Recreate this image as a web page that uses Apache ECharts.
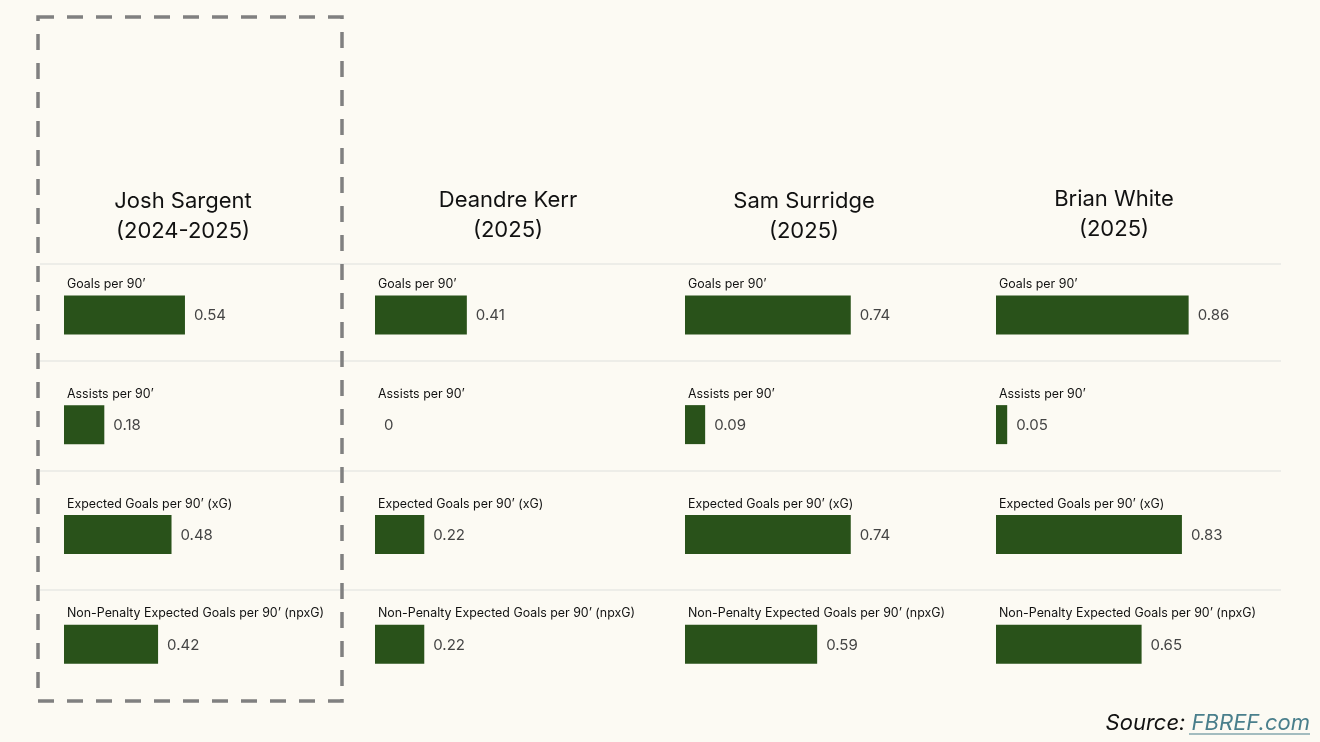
<!DOCTYPE html>
<html>
<head>
<meta charset="utf-8">
<script src="https://cdn.jsdelivr.net/npm/echarts@6/dist/echarts.min.js"></script>
<style>
  html, body { margin: 0; padding: 0; background: #fcfaf3; }
  #main { width: 1320px; height: 742px; }
</style>
</head>
<body>
<div id="main"></div>
<script>
// players and the four per-90 stats
var players = ['Josh Sargent', 'Deandre Kerr', 'Sam Surridge', 'Brian White']
var seasons = ['(2024-2025)', '(2025)', '(2025)', '(2025)']
var metrics = [
  'Goals per 90’',
  'Assists per 90’',
  'Expected Goals per 90’ (xG)',
  'Non-Penalty Expected Goals per 90’ (npxG)'
]
var sargent = [0.54, 0.18, 0.48, 0.42]
var kerr = [0.41, 0, 0.22, 0.22]
var surridge = [0.74, 0.09, 0.74, 0.59]
var white = [0.86, 0.05, 0.83, 0.65]
var values = [sargent, kerr, surridge, white]

var font = 'Inter, "Noto Sans", sans-serif'
var colLeft = [64, 375, 685, 996]
var nameX = [183, 508, 804, 1114]
var nameY = [216, 215, 216, 214]

var grids = [], xAxes = [], yAxes = [], series = [], graphics = []

players.forEach(function (name, i) {
  grids.push({ left: colLeft[i], top: 260, width: 224, height: 439 })
  xAxes.push({ gridIndex: i, type: 'value', min: 0, max: 1, show: false })
  yAxes.push({ gridIndex: i, type: 'category', inverse: true, data: metrics, show: false })
  // bars with the value label
  series.push({
    type: 'bar',
    xAxisIndex: i,
    yAxisIndex: i,
    barWidth: 39,
    silent: true,
    itemStyle: { color: '#29521a' },
    label: {
      show: true,
      position: 'right',
      distance: 9,
      offset: [0, 1],
      fontFamily: font,
      fontSize: 15,
      color: '#444'
    },
    data: values[i]
  })
  // same bars, invisible, carrying the metric name above
  series.push({
    type: 'bar',
    xAxisIndex: i,
    yAxisIndex: i,
    barWidth: 39,
    barGap: '-100%',
    silent: true,
    itemStyle: { color: 'rgba(0,0,0,0)' },
    label: {
      show: true,
      position: [3, -11],
      align: 'left',
      verticalAlign: 'middle',
      fontFamily: font,
      fontSize: 12.4,
      color: '#111',
      formatter: function (p) { return p.name }
    },
    data: values[i]
  })
  graphics.push({
    type: 'text',
    x: nameX[i],
    y: nameY[i],
    style: {
      text: name + '\n' + seasons[i],
      fontFamily: font,
      fontSize: 22,
      lineHeight: 30,
      fill: '#111',
      align: 'center',
      verticalAlign: 'middle'
    }
  })
})

// row separators
;[264, 361, 471, 590].forEach(function (y) {
  graphics.push({
    type: 'line',
    shape: { x1: 40, y1: y, x2: 1281, y2: y },
    style: { stroke: '#ededE8', lineWidth: 2 }
  })
})

// dashed box round the first player
graphics.push({
  type: 'rect',
  shape: { x: 38, y: 17, width: 304, height: 684 },
  style: { fill: 'none', stroke: '#808080', lineWidth: 3.5, lineDash: [16, 13] },
  z: 10
})

// source line
graphics.push({
  type: 'text',
  x: 1310,
  y: 723,
  style: {
    text: '{a|Source: }{b|FBREF.com}',
    align: 'right',
    verticalAlign: 'middle',
    rich: {
      a: { fontFamily: font, fontSize: 22, fontStyle: 'italic', fill: '#111' },
      b: { fontFamily: font, fontSize: 22, fontStyle: 'italic', fill: '#4a7f8c' }
    }
  }
})
graphics.push({
  type: 'line',
  shape: { x1: 1189, y1: 734, x2: 1310, y2: 734 },
  style: { stroke: '#4a7f8c', lineWidth: 1.2 }
})

var myCharts = echarts.init(document.getElementById('main'))
myCharts.setOption({
  backgroundColor: '#fcfaf3',
  animation: false,
  grid: grids,
  xAxis: xAxes,
  yAxis: yAxes,
  series: series,
  graphic: graphics
})
</script>
</body>
</html>
